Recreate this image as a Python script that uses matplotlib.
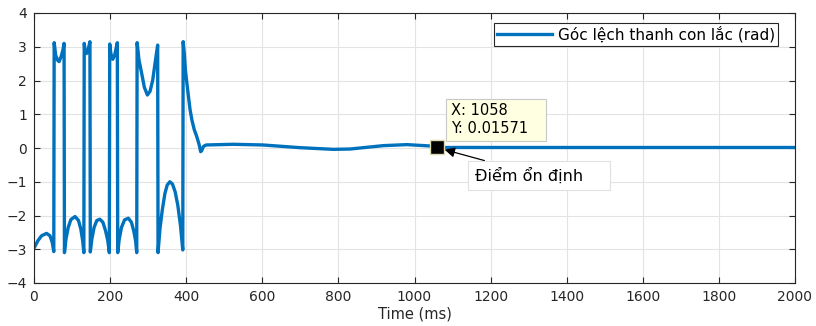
import matplotlib
matplotlib.use('Agg')
import matplotlib.pyplot as plt

# Pendulum angle (rad), time in ms
time_ms = [0, 10, 20, 33, 42, 48, 52,
           53, 57, 62, 66, 71, 76, 79,
           80, 84, 90, 97, 108, 117, 123, 128, 131,
           132, 135, 138, 142, 147,
           148, 152, 158, 165, 173, 181, 188, 194, 198,
           199, 202, 207, 212, 219,
           220, 224, 230, 238, 248, 256, 262, 267, 270,
           271, 276, 283, 290, 298, 305, 312, 318, 325,
           326, 331, 337, 344, 350, 357, 364, 371, 378, 385, 391,
           392, 395, 398, 402, 406, 410, 415, 421, 428, 434, 438, 441, 445, 450, 454,
           523, 601, 699, 787, 831, 918, 980, 1041, 1058, 1300, 1600, 2000]
angle_rad = [-2.97, -2.75, -2.60, -2.53, -2.60, -2.80, -3.07,
             3.12, 2.75, 2.60, 2.56, 2.70, 2.90, 3.10,
             -3.10, -2.70, -2.35, -2.12, -2.03, -2.15, -2.40, -2.75, -3.10,
             3.10, 2.85, 2.80, 2.90, 3.15,
             -3.08, -2.70, -2.35, -2.15, -2.11, -2.20, -2.45, -2.75, -3.10,
             3.08, 2.80, 2.63, 2.75, 3.12,
             -3.10, -2.70, -2.35, -2.13, -2.08, -2.20, -2.45, -2.75, -3.10,
             3.12, 2.60, 2.21, 1.80, 1.57, 1.68, 2.01, 2.50, 3.05,
             -3.10, -2.40, -1.85, -1.35, -1.10, -1.00, -1.07, -1.30, -1.70, -2.30, -3.02,
             3.15, 2.80, 2.30, 1.90, 1.52, 1.15, 0.83, 0.55, 0.33, 0.10, -0.11, -0.07, 0.04, 0.08, 0.09,
             0.11, 0.09, 0.01, -0.04, -0.03, 0.07, 0.10, 0.06, 0.01571, 0.015, 0.015, 0.015]

x_ticks = list(range(0, 2001, 200))
y_ticks = list(range(-4, 5))

tip_x = 1058
tip_y = 0.01571

fig = plt.figure(figsize=(8.16, 3.26), dpi=100)
ax = fig.add_axes([34 / 816, 43 / 326, 761 / 816, 270 / 326])

line_color = '#0072BD'
ax.plot(time_ms, angle_rad, color=line_color, linewidth=2.4,
        solid_joinstyle='round', label='Góc lệch thanh con lắc (rad)')

ax.set_xlim(0, 2000)
ax.set_ylim(-4, 4)
ax.set_xticks(x_ticks)
ax.set_yticks(y_ticks)
ax.grid(True, color='#e3e3e3', linewidth=0.8)
ax.set_axisbelow(True)
ax.tick_params(direction='in', length=4, width=0.8, top=True, right=True,
               labelsize=10, colors='#262626', pad=5)
for sp in ax.spines.values():
    sp.set_color('#262626')
    sp.set_linewidth(0.8)
ax.set_xlabel('Time (ms)', fontsize=10.5, color='#262626', labelpad=2)

leg = ax.legend(loc='upper right', bbox_to_anchor=(778 / 816, 1 - 23 / 326),
                bbox_transform=fig.transFigure, fontsize=11, fancybox=False,
                framealpha=1, edgecolor='#262626', handlelength=3.6,
                borderpad=0.2, borderaxespad=0, handletextpad=0.35)
leg.get_frame().set_linewidth(0.8)

# data tip
ax.plot([tip_x], [tip_y], marker='s', markersize=10, color='black',
        markeredgecolor='#dcdab0', markeredgewidth=1.0, zorder=5)
ax.annotate('X: 1058\nY: 0.01571   ', xy=(tip_x, tip_y), xytext=(14, 11),
            textcoords='offset pixels', ha='left', va='bottom', fontsize=10.5,
            linespacing=1.25,
            bbox=dict(boxstyle='square,pad=0.3', facecolor='#ffffe1',
                      edgecolor='#c8c8c8', linewidth=0.8), zorder=6)

ax.annotate('Điểm ổn định    ', xy=(tip_x, tip_y), xytext=(38, -28),
            textcoords='offset pixels', ha='left', va='center', fontsize=11.5,
            bbox=dict(boxstyle='square,pad=0.4', facecolor='white',
                      edgecolor='#e0e0e0', linewidth=0.8),
            arrowprops=dict(arrowstyle='-|>', color='black', lw=0.9,
                            mutation_scale=15, shrinkA=0, shrinkB=6),
            zorder=6)

fig.savefig('out.png', dpi=100)
